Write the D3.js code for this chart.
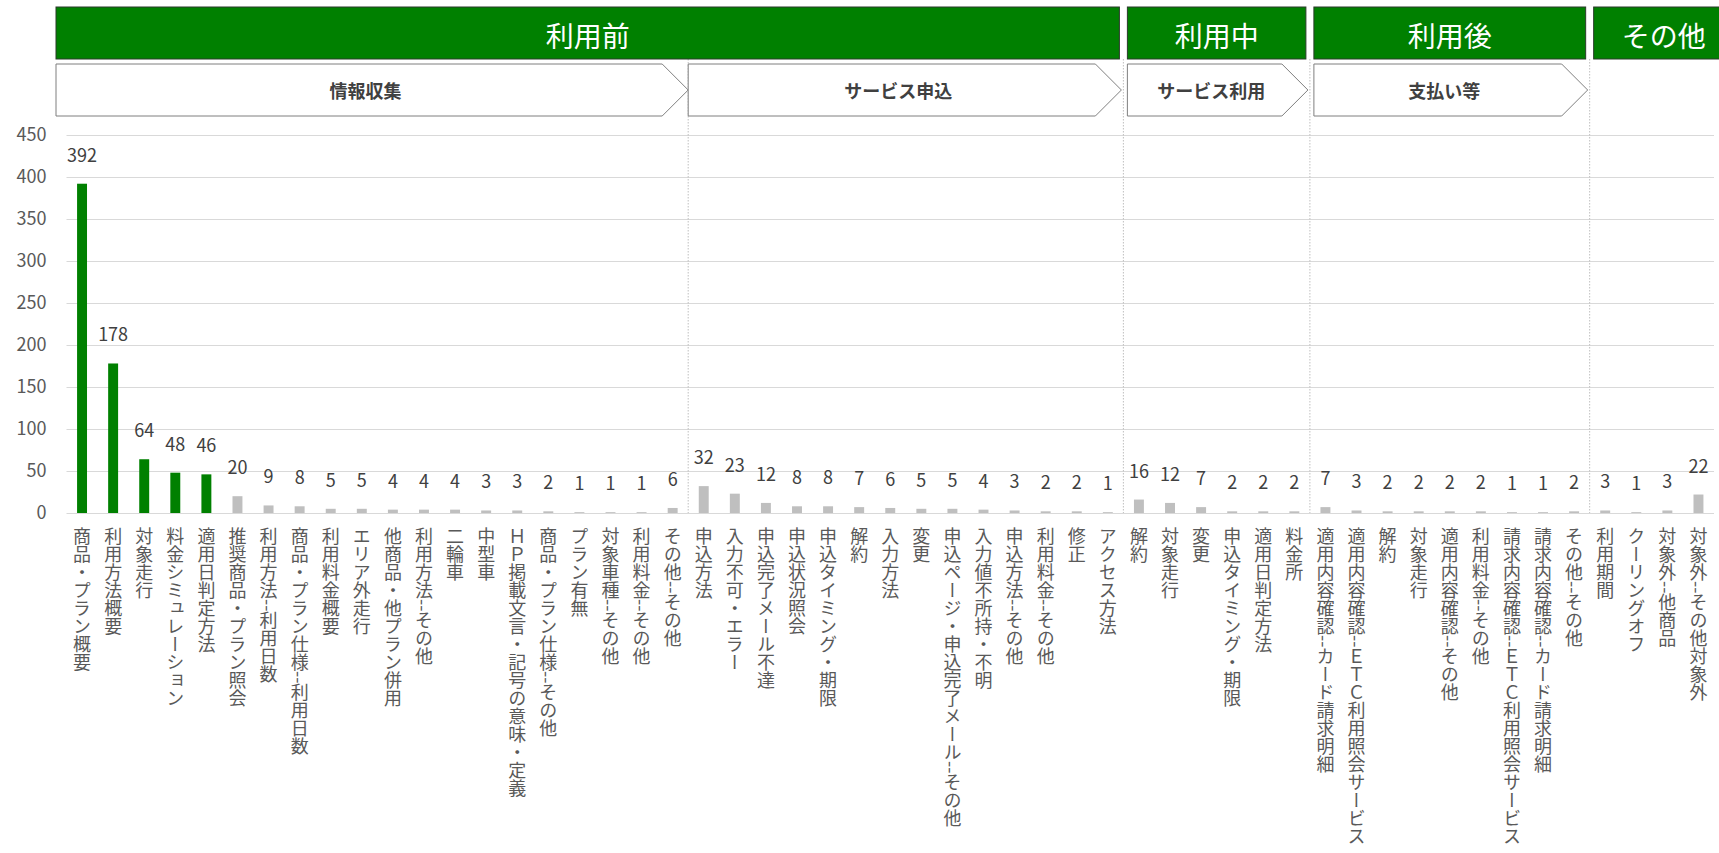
<!DOCTYPE html>
<html lang="ja">
<head>
<meta charset="utf-8">
<script src="https://cdn.jsdelivr.net/npm/d3@7"></script>
<style>
  body { margin: 0; background: #fff; }
  svg { font-family: "Noto Sans CJK JP", "Noto Sans", sans-serif; }
</style>
</head>
<body>
<svg id="chart" width="1719" height="853"></svg>
<script>
const categories = [
  "商品・プラン概要", "利用方法概要", "対象走行", "料金シミュレーション", "適用日判定方法",
  "推奨商品・プラン照会", "利用方法--利用日数", "商品・プラン仕様--利用日数", "利用料金概要", "エリア外走行",
  "他商品・他プラン併用", "利用方法--その他", "二輪車", "中型車", "ＨＰ掲載文言・記号の意味・定義",
  "商品・プラン仕様--その他", "プラン有無", "対象車種--その他", "利用料金--その他", "その他--その他",
  "申込方法", "入力不可・エラー", "申込完了メール不達", "申込状況照会", "申込タイミング・期限",
  "解約", "入力方法", "変更", "申込ページ・申込完了メール--その他", "入力値不所持・不明",
  "申込方法--その他", "利用料金--その他", "修正", "アクセス方法",
  "解約", "対象走行", "変更", "申込タイミング・期限", "適用日判定方法", "料金所",
  "適用内容確認--カード請求明細", "適用内容確認--ＥＴＣ利用照会サービス", "解約", "対象走行", "適用内容確認--その他",
  "利用料金--その他", "請求内容確認--ＥＴＣ利用照会サービス", "請求内容確認--カード請求明細", "その他--その他",
  "利用期間", "クーリングオフ", "対象外--他商品", "対象外--その他対象外"
];
const counts = [
  392, 178, 64, 48, 46, 20, 9, 8, 5, 5, 4, 4, 4, 3, 3, 2, 1, 1, 1, 6,
  32, 23, 12, 8, 8, 7, 6, 5, 5, 4, 3, 2, 2, 1,
  16, 12, 7, 2, 2, 2,
  7, 3, 2, 2, 2, 2, 1, 1, 2,
  3, 1, 3, 22
];
const highlightCount = 5;   // the first five bars are drawn green
const yTicks = [0, 50, 100, 150, 200, 250, 300, 350, 400, 450];

const phases = ["利用前", "利用中", "利用後", "その他"];
const phaseBreaks = [0, 34, 40, 49, 53];
const stages = ["情報収集", "サービス申込", "サービス利用", "支払い等"];
const stageBreaks = [0, 20, 34, 40, 49];

const green = "#008000", grey = "#bfbfbf";

const margin = { top: 135, right: 5, bottom: 340, left: 66.5 },
    width = 1719 - margin.left - margin.right,
    height = 853 - margin.top - margin.bottom;

const svg = d3.select("#chart")
  .append("g")
  .attr("transform", `translate(${margin.left},${margin.top})`);

const x = d3.scaleBand()
  .domain(d3.range(categories.length))
  .range([0, width])
  .paddingInner(0.68)
  .paddingOuter(0.34);

const y = d3.scaleLinear()
  .domain([0, 450])
  .range([height, 0]);

const edge = i => i * x.step();

// gridlines + y labels
const yAxis = svg.append("g")
  .call(d3.axisLeft(y).tickValues(yTicks).tickSize(-width).tickPadding(20));
yAxis.attr("font-size", null).attr("font-family", null);
yAxis.select(".domain").remove();
yAxis.selectAll("line").attr("stroke", "#d9d9d9");
yAxis.selectAll("text").attr("fill", "#595959").style("font-size", "18px");

// dotted separators between stages
svg.selectAll(".sep")
  .data(phaseBreaks.slice(1, -1).concat([stageBreaks[1]]))
  .enter()
  .append("line")
  .attr("x1", d => edge(d))
  .attr("x2", d => edge(d))
  .attr("y1", -76)
  .attr("y2", height)
  .attr("stroke", "#bfbfbf")
  .attr("stroke-dasharray", "1.5,1.5");

// phase headers
const phaseData = phases.map((p, i) => ({
  name: p,
  x0: i === 0 ? -10.5 : edge(phaseBreaks[i]) + 4,
  x1: i === phases.length - 1 ? edge(phaseBreaks[i + 1]) + 20 : edge(phaseBreaks[i + 1]) - 4
}));
const ph = svg.selectAll(".phase").data(phaseData).enter().append("g");
ph.append("rect")
  .attr("x", d => d.x0)
  .attr("y", -128)
  .attr("width", d => d.x1 - d.x0)
  .attr("height", 52)
  .attr("fill", green)
  .attr("stroke", "#2a3a2a")
  .attr("stroke-width", 1);
ph.append("text")
  .attr("x", d => (d.x0 + d.x1) / 2)
  .attr("y", -100)
  .attr("text-anchor", "middle")
  .attr("dominant-baseline", "central")
  .attr("fill", "#fff")
  .style("font-size", "28px")
  .text(d => d.name);

// stage chevrons
const depth = 26, chevTop = -71, chevBot = -19;
const stageData = stages.map((s, i) => ({
  name: s,
  x0: i === 0 ? -10.5 : edge(stageBreaks[i]) + (i === 1 ? 0 : 4),
  tip: edge(stageBreaks[i + 1]) - (i === 0 ? 0 : 2)
}));
const st = svg.selectAll(".stage").data(stageData).enter().append("g");
st.append("path")
  .attr("d", d => `M${d.x0},${chevTop}H${d.tip - depth}L${d.tip},${(chevTop + chevBot) / 2}L${d.tip - depth},${chevBot}H${d.x0}Z`)
  .attr("fill", "#fff")
  .attr("stroke", "#7f7f7f")
  .attr("stroke-width", 1);
st.append("text")
  .attr("x", d => (d.x0 + d.tip - depth / 2) / 2)
  .attr("y", (chevTop + chevBot) / 2)
  .attr("text-anchor", "middle")
  .attr("dominant-baseline", "central")
  .attr("fill", "#404040")
  .style("font-size", "18px")
  .style("font-weight", "bold")
  .text(d => d.name);

// bars
svg.selectAll(".bar")
  .data(counts)
  .enter()
  .append("rect")
  .attr("x", (d, i) => x(i))
  .attr("y", d => y(d))
  .attr("width", x.bandwidth())
  .attr("height", d => height - y(d))
  .attr("fill", (d, i) => i < highlightCount ? green : grey);

// value labels
svg.selectAll(".val")
  .data(counts)
  .enter()
  .append("text")
  .attr("x", (d, i) => x(i) + x.bandwidth() / 2)
  .attr("y", d => y(d) - 22)
  .attr("text-anchor", "middle")
  .attr("fill", "#404040")
  .style("font-size", "18px")
  .text(d => d);

// category labels, vertical
const xAxis = svg.append("g")
  .attr("transform", `translate(0,${height})`)
  .call(d3.axisBottom(x).tickSize(0).tickFormat(i => categories[i]));
xAxis.attr("font-size", null).attr("font-family", null);
xAxis.select(".domain").remove();
xAxis.selectAll("text")
  .attr("y", 14)
  .attr("dy", null)
  .attr("text-anchor", "start")
  .attr("fill", "#595959")
  .style("writing-mode", "vertical-rl")
  .style("font-size", "18px");
</script>
</body>
</html>
